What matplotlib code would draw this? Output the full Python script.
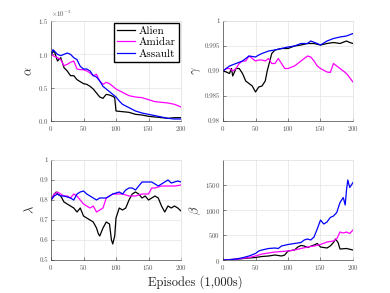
import numpy as np
import matplotlib
matplotlib.use('Agg')
import matplotlib.pyplot as plt
from matplotlib.ticker import ScalarFormatter

plt.rcParams['font.family'] = 'serif'
plt.rcParams['font.serif'] = ['cmr10']
plt.rcParams['mathtext.fontset'] = 'cm'
plt.rcParams['axes.unicode_minus'] = False
plt.rcParams['axes.formatter.use_mathtext'] = True

games = ['Alien', 'Amidar', 'Assault']
colors = ['black', '#ff00ff', '#0000ff']

# alpha (x1e-3)
a_alien_x = [0, 5, 10, 15, 20, 25, 30, 35, 40, 50, 55, 60, 65, 70, 75, 80, 85, 90, 95, 98, 100, 110, 120, 130, 140, 150, 160, 170, 180, 190, 200]
a_alien = [1.0, 1.05, 0.9, 0.95, 0.8, 0.75, 0.68, 0.68, 0.62, 0.56, 0.55, 0.52, 0.48, 0.42, 0.36, 0.34, 0.40, 0.39, 0.37, 0.35, 0.15, 0.14, 0.13, 0.10, 0.09, 0.07, 0.06, 0.05, 0.04, 0.05, 0.05]
a_amidar_x = [0, 5, 10, 15, 20, 25, 30, 35, 40, 45, 50, 55, 60, 65, 70, 75, 80, 85, 90, 95, 100, 110, 120, 130, 140, 150, 160, 170, 180, 190, 200]
a_amidar = [1.0, 0.97, 0.95, 0.92, 0.83, 0.85, 0.88, 0.90, 0.78, 0.77, 0.77, 0.75, 0.72, 0.68, 0.70, 0.60, 0.55, 0.58, 0.56, 0.52, 0.48, 0.43, 0.38, 0.36, 0.35, 0.32, 0.29, 0.28, 0.27, 0.25, 0.21]
a_assault_x = [0, 3, 10, 15, 20, 25, 30, 35, 40, 45, 50, 55, 60, 65, 70, 75, 80, 85, 90, 95, 100, 105, 110, 120, 130, 140, 150, 160, 170, 180, 190, 200]
a_assault = [1.0, 1.07, 1.0, 0.98, 1.0, 1.02, 1.0, 0.95, 0.92, 0.82, 0.78, 0.78, 0.75, 0.68, 0.66, 0.60, 0.52, 0.48, 0.44, 0.40, 0.36, 0.30, 0.25, 0.20, 0.15, 0.12, 0.10, 0.08, 0.06, 0.04, 0.03, 0.03]

# gamma
g_alien_x = [0, 5, 10, 13, 15, 20, 25, 30, 35, 40, 45, 50, 55, 60, 65, 68, 72, 75, 80, 90, 100, 110, 120, 130, 140, 150, 160, 170, 180, 190, 195, 200]
g_alien = [0.990, 0.9898, 0.9895, 0.9905, 0.989, 0.9905, 0.9905, 0.9895, 0.988, 0.9875, 0.987, 0.9858, 0.9868, 0.987, 0.988, 0.990, 0.992, 0.9935, 0.9942, 0.9945, 0.9945, 0.995, 0.9952, 0.9955, 0.9955, 0.9952, 0.9955, 0.9957, 0.9955, 0.996, 0.9957, 0.9955]
g_amidar_x = [0, 5, 10, 15, 20, 25, 30, 35, 40, 45, 50, 55, 60, 65, 70, 75, 80, 85, 90, 95, 100, 110, 120, 125, 130, 135, 140, 145, 150, 160, 165, 170, 175, 180, 190, 200]
g_amidar = [0.990, 0.9905, 0.9905, 0.990, 0.9905, 0.9915, 0.992, 0.992, 0.993, 0.9925, 0.992, 0.9922, 0.9922, 0.992, 0.9925, 0.9915, 0.9915, 0.9925, 0.9915, 0.9905, 0.9905, 0.991, 0.992, 0.9925, 0.993, 0.9928, 0.992, 0.991, 0.9905, 0.9898, 0.9897, 0.9915, 0.991, 0.9905, 0.9895, 0.9878]
g_assault_x = [0, 5, 10, 20, 30, 40, 50, 55, 60, 70, 80, 90, 100, 110, 120, 130, 135, 145, 150, 160, 170, 180, 190, 200]
g_assault = [0.990, 0.9905, 0.991, 0.9915, 0.992, 0.993, 0.9928, 0.9932, 0.9935, 0.994, 0.9942, 0.9945, 0.9948, 0.995, 0.9955, 0.9955, 0.996, 0.9955, 0.9952, 0.996, 0.9965, 0.9968, 0.997, 0.9975]

# lambda
l_x = [0, 5, 10, 15, 20, 25, 30, 35, 40, 45, 50, 55, 60, 65, 70, 75, 80, 85, 90, 95, 100, 105, 110, 115, 120, 125, 130, 135, 140, 145, 150, 155, 160, 165, 170, 175, 180, 185, 190, 195, 200]
l_alien_x = [0, 5, 8, 10, 15, 20, 25, 30, 35, 40, 45, 50, 55, 60, 65, 70, 73, 75, 80, 85, 90, 93, 95, 98, 100, 105, 110, 115, 120, 125, 130, 135, 140, 145, 150, 155, 160, 165, 170, 175, 180, 185, 190, 195, 200]
l_alien = [0.80, 0.83, 0.84, 0.83, 0.82, 0.79, 0.78, 0.77, 0.76, 0.74, 0.76, 0.72, 0.71, 0.70, 0.69, 0.66, 0.63, 0.62, 0.66, 0.69, 0.68, 0.60, 0.58, 0.62, 0.71, 0.76, 0.75, 0.76, 0.80, 0.83, 0.84, 0.83, 0.81, 0.82, 0.80, 0.81, 0.82, 0.81, 0.77, 0.74, 0.77, 0.76, 0.77, 0.76, 0.745]
l_amidar = [0.80, 0.83, 0.84, 0.83, 0.82, 0.82, 0.81, 0.83, 0.82, 0.80, 0.78, 0.77, 0.76, 0.77, 0.74, 0.75, 0.76, 0.81, 0.82, 0.83, 0.83, 0.83, 0.83, 0.825, 0.82, 0.82, 0.82, 0.825, 0.83, 0.83, 0.83, 0.86, 0.86, 0.865, 0.87, 0.87, 0.87, 0.87, 0.87, 0.872, 0.875]
l_assault = [0.80, 0.82, 0.83, 0.82, 0.82, 0.815, 0.81, 0.80, 0.83, 0.84, 0.845, 0.83, 0.82, 0.81, 0.80, 0.81, 0.81, 0.81, 0.82, 0.83, 0.835, 0.84, 0.83, 0.85, 0.86, 0.86, 0.85, 0.87, 0.89, 0.89, 0.89, 0.89, 0.88, 0.87, 0.88, 0.89, 0.90, 0.885, 0.89, 0.895, 0.89]

# beta
b_alien_x = [0, 20, 40, 50, 60, 70, 80, 90, 95, 100, 110, 115, 120, 125, 130, 140, 145, 150, 160, 165, 170, 173, 177, 180, 190, 200]
b_alien = [0, 15, 40, 50, 70, 80, 100, 80, 100, 180, 200, 260, 290, 280, 250, 300, 330, 260, 240, 280, 350, 420, 350, 220, 230, 200]
b_amidar_x = [0, 20, 40, 50, 60, 70, 80, 90, 100, 110, 120, 130, 140, 150, 160, 170, 175, 180, 185, 190, 195, 200]
b_amidar = [0, 15, 50, 80, 120, 140, 160, 170, 180, 200, 230, 260, 280, 310, 360, 380, 420, 560, 540, 560, 530, 600]
b_assault_x = [0, 10, 20, 30, 40, 50, 55, 60, 70, 80, 85, 90, 100, 110, 120, 125, 130, 135, 140, 145, 150, 155, 160, 165, 170, 175, 180, 185, 188, 190, 192, 195, 200]
b_assault = [0, 5, 20, 45, 80, 130, 180, 200, 230, 240, 230, 280, 310, 330, 350, 400, 420, 400, 460, 620, 800, 720, 760, 850, 880, 950, 1150, 1250, 1100, 1400, 1600, 1450, 1550]

fig = plt.figure(figsize=(3.9, 2.93), dpi=100)
W, H = 390, 293


def make_ax(x0, y0, x1, y1):
    return fig.add_axes([x0 / W, 1 - y1 / H, (x1 - x0) / W, (y1 - y0) / H])


ax_a = make_ax(51, 21, 181, 121)
ax_g = make_ax(223, 21, 353, 121)
ax_l = make_ax(51, 160, 181, 260)
ax_b = make_ax(223, 160, 353, 260)

lw = 0.9
for xs, ys, c, name in [(a_alien_x, a_alien, colors[0], games[0]),
                        (a_amidar_x, a_amidar, colors[1], games[1]),
                        (a_assault_x, a_assault, colors[2], games[2])]:
    ax_a.plot(xs, np.array(ys) * 1e-3, color=c, lw=lw, label=name)
for xs, ys, c in [(g_alien_x, g_alien, colors[0]), (g_amidar_x, g_amidar, colors[1]), (g_assault_x, g_assault, colors[2])]:
    ax_g.plot(xs, ys, color=c, lw=lw)
for xs, ys, c in [(l_alien_x, l_alien, colors[0]), (l_x, l_amidar, colors[1]), (l_x, l_assault, colors[2])]:
    ax_l.plot(xs, ys, color=c, lw=lw)
for xs, ys, c in [(b_alien_x, b_alien, colors[0]), (b_amidar_x, b_amidar, colors[1]), (b_assault_x, b_assault, colors[2])]:
    ax_b.plot(xs, ys, color=c, lw=lw)

ax_a.set_ylim(0, 1.5e-3)
ax_a.set_yticks([0, 0.5e-3, 1e-3, 1.5e-3])
fmt = ScalarFormatter(useMathText=True)
fmt.set_powerlimits((-2, 2))
ax_a.yaxis.set_major_formatter(fmt)
ax_a.yaxis.get_offset_text().set_fontsize(5)
ax_a.yaxis.get_offset_text().set_color('#555555')

ax_g.set_ylim(0.98, 1.0)
ax_g.set_yticks([0.98, 0.985, 0.99, 0.995, 1.0])
ax_g.set_yticklabels(['0.98', '0.985', '0.99', '0.995', '1'])

ax_l.set_ylim(0.5, 1.0)
ax_l.set_yticks([0.5, 0.6, 0.7, 0.8, 0.9, 1.0])
ax_l.set_yticklabels(['0.5', '0.6', '0.7', '0.8', '0.9', '1'])

ax_b.set_ylim(0, 2000)
ax_b.set_yticks([0, 500, 1000, 1500])

for ax, lab in [(ax_a, r'$\alpha$'), (ax_g, r'$\gamma$'), (ax_l, r'$\lambda$'), (ax_b, r'$\beta$')]:
    ax.set_xlim(0, 200)
    ax.set_xticks([0, 50, 100, 150, 200])
    ax.grid(True, color='#e8e8e8', lw=0.6)
    ax.set_axisbelow(True)
    ax.tick_params(direction='in', labelsize=5, colors='#555555', length=2, width=0.5, pad=2)
    for s in ax.spines.values():
        s.set_color('#444444')
        s.set_linewidth(0.5)
    for s in ['top', 'right']:
        ax.spines[s].set_color('#dddddd')
    ax.set_ylabel(lab, fontsize=9, color='#333333', labelpad=1.5)

ax_a.legend(loc='upper right', fontsize=8, frameon=True, fancybox=False, edgecolor='black',
            borderpad=0.3, labelspacing=0.15, handlelength=1.6, handletextpad=0.4,
            borderaxespad=0.15, framealpha=1)

fig.text(195 / W, 1 - 282 / H, 'Episodes (1,000s)', ha='center', va='center', fontsize=9, color='#222222')

fig.savefig('out.png', dpi=100)
